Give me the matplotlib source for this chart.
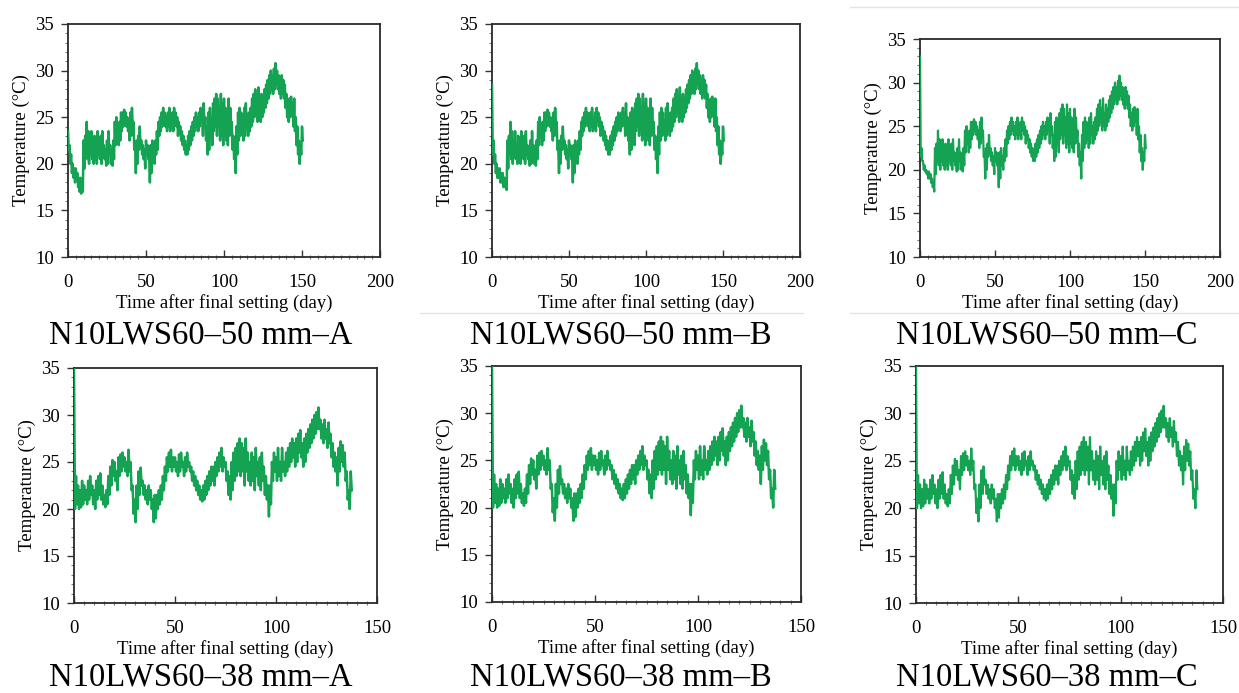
import matplotlib
matplotlib.use("Agg")
import matplotlib.pyplot as plt
from matplotlib.ticker import MultipleLocator
from matplotlib.lines import Line2D

# ---------------------------------------------------------------------------
# Daily temperature envelopes (low, high) in deg C
# ---------------------------------------------------------------------------

# 50 mm specimens: first ten days differ per sensor, days 10-150 shared
start50_A_lo = [21.5, 20.0, 19.0, 18.5, 18.0, 18.5, 17.5, 17.0, 16.8, 17.0]
start50_A_hi = [23.5, 22.0, 21.0, 20.0, 19.5, 19.5, 19.0, 18.5, 18.5, 18.0]
start50_B_lo = [21.0, 20.0, 19.0, 18.5, 18.5, 18.0, 18.0, 17.5, 17.5, 17.2]
start50_B_hi = [28.5, 22.5, 21.0, 20.0, 19.5, 19.5, 19.0, 19.0, 18.5, 18.0]
start50_C_lo = [21.5, 21.0, 20.0, 19.8, 19.5, 19.0, 19.0, 18.5, 18.0, 17.5]
start50_C_hi = [33.0, 22.5, 21.0, 20.5, 20.0, 19.8, 19.8, 19.5, 19.0, 18.5]

day50_lo = [
    19.5, 21.0, 20.5, 20.0, 21.0, 20.5, 20.0, 20.5, 20.0, 21.0,   # 10-19
    20.5, 20.0, 21.0, 20.5, 19.8, 20.0, 21.0, 20.0, 19.8, 20.5,   # 20-29
    22.0, 23.0, 22.0, 22.5, 23.5, 24.0, 24.5, 24.0, 23.5, 22.5,   # 30-39
    23.0, 24.0, 21.5, 19.0, 20.0, 21.5, 22.0, 21.0, 20.5, 19.5,   # 40-49
    21.0, 20.5, 18.0, 19.0, 20.5, 20.0, 21.0, 21.5, 23.0, 23.5,   # 50-59
    24.0, 24.5, 24.0, 23.5, 24.0, 23.5, 24.0, 23.5, 24.5, 24.0,   # 60-69
    23.0, 23.5, 22.5, 22.0, 21.5, 21.0, 21.0, 21.5, 22.0, 22.5,   # 70-79
    23.0, 23.5, 24.0, 23.5, 24.0, 24.5, 23.0, 24.0, 22.5, 21.0,   # 80-89
    21.5, 23.0, 22.0, 23.5, 24.0, 23.0, 24.0, 22.5, 23.0, 22.0,   # 90-99
    23.0, 22.5, 22.0, 23.0, 23.5, 21.5, 20.5, 19.0, 21.0, 22.5,   # 100-109
    23.0, 23.5, 22.5, 23.0, 24.0, 23.0, 23.5, 24.0, 24.5, 25.0,   # 110-119
    25.5, 24.5, 25.0, 24.5, 25.0, 25.5, 26.0, 26.5, 27.0, 27.5,   # 120-129
    28.0, 27.5, 28.0, 28.5, 28.0, 27.5, 27.0, 27.5, 27.0, 26.0,   # 130-139
    25.0, 24.5, 25.0, 25.5, 24.0, 23.5, 22.0, 21.0, 20.0, 21.0,   # 140-149
    22.5,                                                         # 150
]
day50_hi = [
    22.5, 23.0, 24.5, 23.5, 22.5, 23.5, 22.0, 23.0, 22.5, 23.5,
    22.5, 23.0, 23.5, 22.0, 21.5, 22.5, 23.5, 22.0, 21.5, 22.5,
    24.5, 25.0, 24.0, 24.5, 25.5, 25.5, 25.8, 25.5, 25.0, 24.5,
    25.5, 26.0, 24.5, 22.0, 22.5, 23.0, 24.0, 22.5, 22.0, 21.5,
    22.5, 22.0, 21.0, 22.0, 22.5, 21.5, 22.5, 23.5, 24.5, 25.0,
    25.5, 26.0, 25.5, 25.0, 25.5, 26.0, 25.0, 25.5, 26.0, 25.5,
    25.0, 24.5, 24.0, 23.5, 23.0, 22.5, 22.0, 23.0, 23.5, 24.0,
    24.5, 25.0, 25.5, 25.0, 25.5, 26.0, 25.5, 26.5, 25.0, 24.0,
    25.5, 26.0, 25.0, 26.5, 27.0, 27.5, 27.0, 26.0, 27.5, 26.5,
    27.0, 26.0, 25.0, 27.0, 26.0, 24.5, 23.0, 22.0, 24.0, 25.5,
    26.0, 25.5, 24.5, 26.0, 26.5, 25.0, 25.5, 26.0, 27.0, 27.5,
    28.0, 27.0, 28.2, 26.5, 27.5, 27.0, 28.0, 28.5, 29.0, 29.5,
    30.0, 29.5, 30.2, 30.8, 30.0, 29.5, 29.0, 29.5, 29.0, 28.5,
    27.5, 26.5, 27.0, 27.2, 26.5, 27.0, 25.0, 24.0, 22.5, 22.0,
    24.0,
]

# 38 mm specimens: days 0-137, shared by the three sensors
day38_lo = [
    20.0, 20.5, 20.0, 20.2, 20.5, 21.0, 20.5, 21.0, 21.5, 20.5,   # 0-9
    20.0, 21.0, 21.5, 21.0, 20.5, 20.2, 20.5, 21.5, 22.5, 23.5,   # 10-19
    23.0, 22.0, 23.5, 24.0, 24.5, 24.0, 23.5, 24.0, 22.0, 19.5,   # 20-29
    18.6, 20.0, 21.5, 22.5, 21.5, 21.0, 20.5, 21.0, 20.0, 18.6,   # 30-39
    19.0, 20.0, 20.5, 21.0, 22.0, 23.0, 24.0, 24.5, 24.0, 24.5,   # 40-49
    24.0, 23.5, 24.0, 24.5, 23.5, 24.0, 24.5, 24.0, 23.0, 22.5,   # 50-59
    22.0, 21.5, 21.0, 20.8, 21.0, 21.5, 22.0, 22.5, 23.0, 22.5,   # 60-69
    23.5, 24.0, 24.5, 24.0, 24.5, 23.0, 21.5, 21.0, 22.0, 23.0,   # 70-79
    23.5, 24.0, 23.5, 24.0, 22.5, 24.0, 23.0, 22.5, 23.0, 22.0,   # 80-89
    23.5, 22.5, 22.0, 23.0, 21.5, 21.0, 19.2, 20.5, 23.0, 24.0,   # 90-99
    23.0, 23.5, 23.0, 24.0, 23.5, 24.0, 24.5, 25.0, 25.5, 24.5,   # 100-109
    25.0, 26.0, 25.5, 24.5, 25.0, 26.0, 26.5, 27.0, 27.5, 28.0,   # 110-119
    28.5, 28.5, 27.5, 27.0, 27.5, 26.5, 27.0, 25.5, 24.5, 24.0,   # 120-129
    22.5, 24.0, 25.0, 24.5, 23.0, 21.0, 20.0, 22.0,               # 130-137
]
day38_hi = [
    35.0, 23.5, 22.5, 22.0, 23.0, 22.5, 22.0, 23.0, 23.5, 22.5,
    22.0, 23.0, 23.5, 23.8, 22.5, 21.5, 22.0, 23.5, 24.5, 25.2,
    25.0, 24.0, 25.5, 25.8, 26.0, 25.5, 25.0, 26.3, 25.0, 22.5,
    21.0, 22.5, 24.0, 24.4, 23.0, 22.5, 22.0, 22.5, 22.0, 21.0,
    21.5, 21.5, 22.0, 22.5, 23.5, 24.5, 25.5, 26.0, 26.3, 25.5,
    25.5, 25.0, 25.8, 26.0, 25.0, 25.5, 26.0, 25.0, 24.5, 24.0,
    23.5, 23.0, 22.5, 22.0, 22.5, 23.0, 23.5, 24.0, 24.5, 24.5,
    25.0, 25.5, 26.0, 26.5, 25.5, 25.0, 24.0, 23.5, 25.0, 26.0,
    26.5, 27.0, 27.5, 27.0, 26.5, 27.5, 26.0, 25.0, 26.0, 25.5,
    26.5, 25.0, 25.5, 26.0, 24.5, 23.5, 22.5, 22.5, 25.0, 26.0,
    25.5, 26.5, 25.0, 26.5, 25.0, 26.0, 26.5, 27.0, 27.5, 27.0,
    27.5, 28.0, 28.4, 27.0, 27.5, 28.0, 28.5, 29.0, 29.5, 30.0,
    30.3, 30.8, 29.5, 29.0, 29.5, 28.5, 29.2, 28.0, 27.0, 26.0,
    25.5, 26.5, 27.2, 26.8, 26.0, 24.0, 22.0, 24.0,
]

panel_titles = [
    "N10LWS60\u201350 mm\u2013A", "N10LWS60\u201350 mm\u2013B", "N10LWS60\u201350 mm\u2013C",
    "N10LWS60\u201338 mm\u2013A", "N10LWS60\u201338 mm\u2013B", "N10LWS60\u201338 mm\u2013C",
]
x_label = "Time after final setting (day)"
y_label = "Temperature (\u00b0C)"
y_ticks = [10, 15, 20, 25, 30, 35]
x_ticks_50 = [0, 50, 100, 150, 200]
x_ticks_38 = [0, 50, 100, 150]

LINE_COLOR = "#14a352"
SERIF = ["Liberation Serif", "DejaVu Serif"]

plt.rcParams["font.family"] = SERIF
plt.rcParams["mathtext.fontset"] = "stix"

W, H = 1239, 693
fig = plt.figure(figsize=(W / 100, H / 100), dpi=100)
fig.patch.set_facecolor("white")


def zigzag(lo, hi):
    """Trace each day's high then its low, giving the dense daily swing."""
    xs, ys = [], []
    for d, (a, b) in enumerate(zip(lo, hi)):
        xs += [d, d + 0.5]
        ys += [b, a]
    return xs, ys


def add_panel(box, lo, hi, xticks, title, title_xy, lw=1.8):
    left, right, top, bottom = box
    ax = fig.add_axes([left / W, (H - bottom) / H, (right - left) / W, (bottom - top) / H])
    xs, ys = zigzag(lo, hi)
    ax.plot(xs, ys, color=LINE_COLOR, lw=lw, solid_joinstyle="round", zorder=3)
    ax.set_xlim(xticks[0], xticks[-1])
    ax.set_ylim(10, 35)
    ax.set_xticks(xticks)
    ax.set_yticks(y_ticks)
    ax.xaxis.set_minor_locator(MultipleLocator(5))
    ax.yaxis.set_minor_locator(MultipleLocator(1))
    ax.tick_params(axis="x", which="major", direction="in", length=5, width=1, labelsize=13.5, pad=12.5, color="#333333")
    ax.tick_params(axis="x", which="minor", direction="inout", length=3, width=0.8, color="#777777")
    ax.tick_params(axis="y", which="major", direction="out", length=5, width=1, labelsize=13.5, pad=5, color="#333333")
    ax.tick_params(axis="y", which="minor", direction="out", length=2.5, width=0.8, color="#777777")
    for sp in ax.spines.values():
        sp.set_linewidth(1.3)
        sp.set_color("#2a2a2a")
    ax.set_xlabel(x_label, fontsize=13.5, labelpad=2)
    ax.set_ylabel(y_label, fontsize=13.5, labelpad=4)
    fig.text(title_xy[0] / W, 1 - title_xy[1] / H, title, fontsize=23.5,
             ha="center", va="center", family=SERIF)
    return ax


# Top row: 50 mm, 150 days on a 0-200 axis
add_panel((68, 380, 24, 257), start50_A_lo + day50_lo, start50_A_hi + day50_hi,
          x_ticks_50, panel_titles[0], (201, 335))
add_panel((492, 800, 24, 257), start50_B_lo + day50_lo, start50_B_hi + day50_hi,
          x_ticks_50, panel_titles[1], (621, 335))
add_panel((920, 1220, 39, 257), start50_C_lo + day50_lo, start50_C_hi + day50_hi,
          x_ticks_50, panel_titles[2], (1047, 335), lw=1.6)

# Bottom row: 38 mm, 137 days on a 0-150 axis
add_panel((74, 377, 368, 603), day38_lo, day38_hi, x_ticks_38, panel_titles[3], (201, 677))
add_panel((492, 801, 366, 602), day38_lo, day38_hi, x_ticks_38, panel_titles[4], (621, 677))
add_panel((916, 1223, 366, 603), day38_lo, day38_hi, x_ticks_38, panel_titles[5], (1047, 677), lw=1.6)

# Faint frame rules around the right-hand block
for (x0, x1, y) in [(850, 1239, 7), (850, 1239, 313), (420, 803, 313)]:
    fig.add_artist(Line2D([x0 / W, x1 / W], [1 - y / H, 1 - y / H],
                          transform=fig.transFigure, color="#e4e4e4", lw=1))

fig.savefig("out.png", dpi=100, facecolor="white")
